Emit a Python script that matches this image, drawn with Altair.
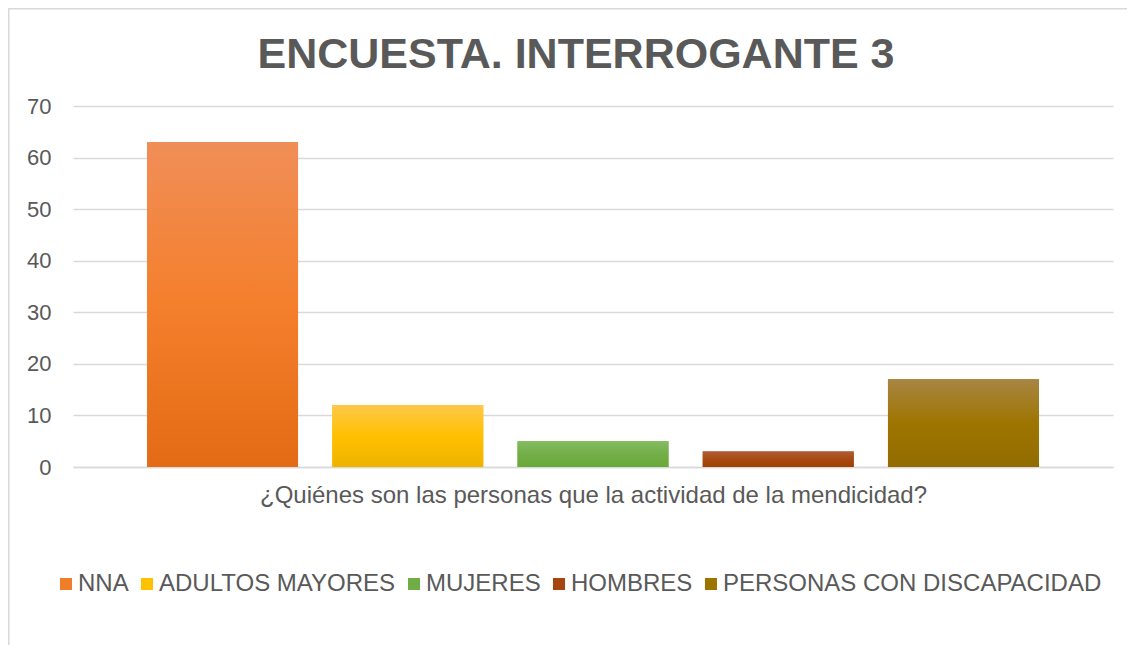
import altair as alt
import pandas as pd

categories = ["NNA", "ADULTOS MAYORES", "MUJERES", "HOMBRES", "PERSONAS CON DISCAPACIDAD"]
values = [63, 12, 5, 3, 17]
base_colors = ["#F07D2A", "#FFC000", "#70AD47", "#A5450F", "#9C7400"]
grad_top = ["#F08E58", "#FFC84A", "#84BB60", "#AF5C36", "#A88543"]
grad_mid = ["#F47F2C", "#FFC000", "#73AE48", "#A84A12", "#9E7500"]
grad_bot = ["#E46B15", "#EEB300", "#69A83A", "#9F3F00", "#926C00"]
title_text = ["ENCUESTA. INTERROGANTE 3"]

df = pd.DataFrame({"cat": categories, "val": values})

W, H = 1040, 361
FONT = "Liberation Sans"
GREY = "#595959"

x_enc = alt.X("cat:N", sort=categories,
              scale=alt.Scale(paddingInner=0.185, paddingOuter=0.4),
              axis=alt.Axis(title="¿Quiénes son las personas que la actividad de la mendicidad?",
                            labels=False, ticks=False, domain=True, domainColor="#D9D9D9",
                            domainWidth=1.5, titleFont=FONT, titleFontSize=24,
                            titleFontWeight="normal", titleColor=GREY, titlePadding=16))
y_enc = alt.Y("val:Q", scale=alt.Scale(domain=[0, 70]),
              axis=alt.Axis(title=None, values=[0, 10, 20, 30, 40, 50, 60, 70],
                            labelFont=FONT, labelFontSize=22, labelColor=GREY,
                            labelPadding=22, ticks=False, domain=False,
                            gridColor="#D9D9D9", gridWidth=1.5))

base = alt.Chart(df).mark_bar().encode(
    x=x_enc, y=y_enc,
    color=alt.Color("cat:N", sort=categories,
                    scale=alt.Scale(domain=categories, range=base_colors),
                    legend=alt.Legend(title=None, orient="none", direction="horizontal",
                                      legendX=-19, legendY=466,
                                      labelFont=FONT, labelFontSize=24, labelColor=GREY,
                                      labelLimit=0, symbolType="square",
                                      symbolSize=144, symbolStrokeWidth=0,
                                      labelOffset=0, columnPadding=6, symbolOffset=0)),
)

layers = [base]
for c, t, m, b in zip(categories, grad_top, grad_mid, grad_bot):
    g = alt.Gradient(gradient="linear", x1=0, x2=0, y1=0, y2=1,
                     stops=[alt.GradientStop(color=t, offset=0),
                            alt.GradientStop(color=m, offset=0.5),
                            alt.GradientStop(color=b, offset=1)])
    layers.append(
        alt.Chart(df).transform_filter(alt.datum.cat == c)
        .mark_bar(fill=g).encode(x=x_enc, y=y_enc)
    )

title = alt.Chart(pd.DataFrame({"t": title_text})).mark_text(
    font=FONT, fontSize=43, fontWeight="bold", color=GREY, align="center", baseline="alphabetic"
).encode(text="t:N", x=alt.value(503), y=alt.value(-38))

frame = alt.Chart(pd.DataFrame({"t": title_text})).mark_rect(
    fill=None, stroke="#D9D9D9", strokeWidth=1.5
).encode(x=alt.value(-64.25), x2=alt.value(W + 40), y=alt.value(-97.25), y2=alt.value(H + 220))

chart = alt.layer(*layers, title, frame).properties(
    width=W, height=H, background="white",
    autosize=alt.AutoSizeParams(type="none"),
    padding={"left": 65, "top": 98, "right": 14, "bottom": 178},
).configure_view(stroke=None)

chart.save("out.html", embed_options={"renderer": "svg", "actions": False})
